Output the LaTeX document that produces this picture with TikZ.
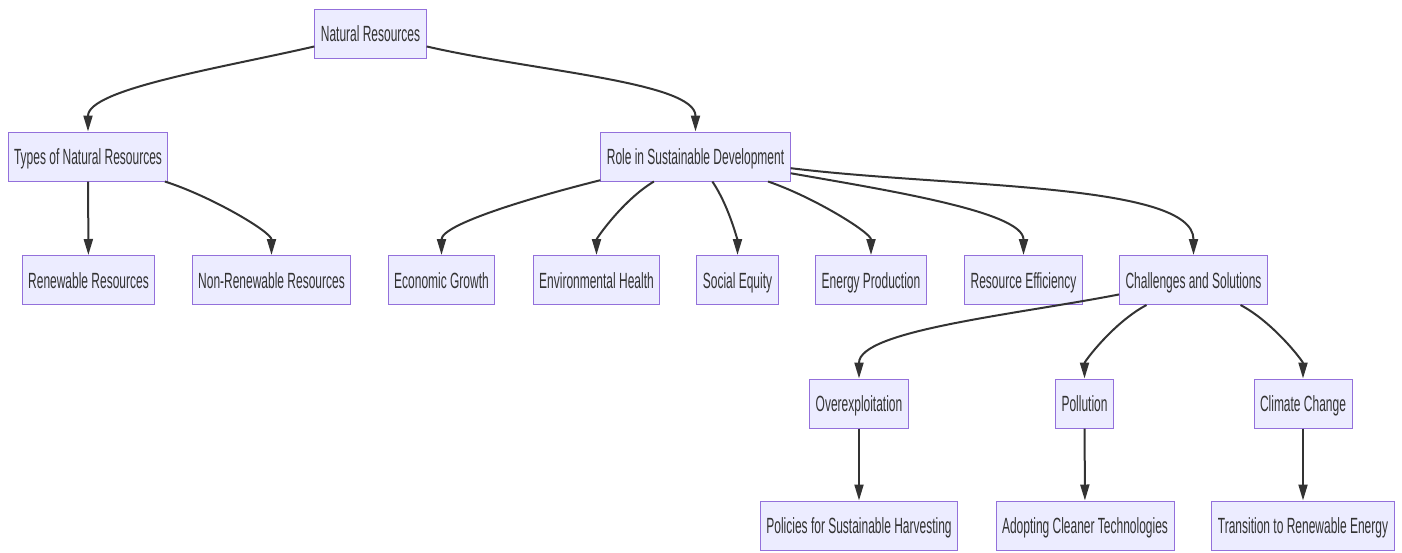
\documentclass[tikz,border=0pt]{standalone}
\usepackage{fontspec}
\setmainfont{Liberation Sans}[FakeStretch=0.545]
\usetikzlibrary{arrows.meta}

\definecolor{boxfill}{HTML}{ECECFF}
\definecolor{boxline}{HTML}{9370DB}
\definecolor{edgeline}{HTML}{333333}

\begin{document}
\begin{tikzpicture}[x=1pt, y=-1pt,
    topic/.style={draw=boxline, fill=boxfill, line width=1pt,
        minimum height=49pt, inner xsep=6pt, text=edgeline,
        text height=16pt, text depth=0pt,
        font=\fontsize{22}{25}\selectfont},
    edge/.style={draw=edgeline, line width=2pt,
        out looseness=1, in looseness=0.45,
        -{Triangle[length=16pt, width=9pt]}}]

    % --- Canvas ---
    \useasboundingbox (0,0) rectangle (1402,552);

    % --- Top levels ---
    \node[topic] (nr) at (370.5,33.5) {Natural Resources};
    \node[topic] (types) at (88,156.5) {Types of Natural Resources};
    \node[topic] (role) at (695.5,156.5) {Role in Sustainable Development};

    % --- Third row ---
    \node[topic] (renew) at (88.5,280) {Renewable Resources};
    \node[topic] (nonrenew) at (271.5,280) {Non-Renewable Resources};
    \node[topic] (econ) at (441.5,280) {Economic Growth};
    \node[topic] (envhealth) at (596.5,280) {Environmental Health};
    \node[topic] (social) at (737.5,280) {Social Equity};
    \node[topic] (energy) at (871,280) {Energy Production};
    \node[topic] (effic) at (1023.5,280) {Resource Efficiency};
    \node[topic] (chal) at (1193.5,280) {Challenges and Solutions};

    % --- Challenges ---
    \node[topic] (overexp) at (859,403.5) {Overexploitation};
    \node[topic] (pollution) at (1084.5,403.5) {Pollution};
    \node[topic] (climate) at (1303,403.5) {Climate Change};

    % --- Solutions ---
    \node[topic] (harvest) at (859,525.5) {Policies for Sustainable Harvesting};
    \node[topic] (cleaner) at (1085,525.5) {Adopting Cleaner Technologies};
    \node[topic] (transition) at (1303,525.5) {Transition to Renewable Energy};

    % --- Connectors ---
    \draw[edge] (nr) to[out=193, in=90] (types);
    \draw[edge] (nr) to[out=-13, in=90] (role);

    \draw[edge] (types) -- (renew);
    \draw[edge] (types) to[out=-18, in=90] (nonrenew);

    \draw[edge] (role) to[out=194, in=90] (econ);
    \draw[edge] (role) to[out=211, in=90] (envhealth);
    \draw[edge] (role) to[out=-56, in=90] (social);
    \draw[edge] (role) to[out=-19, in=90] (energy);
    \draw[edge] (role) to[out=-10, in=90] (effic);
    \draw[edge] (role) to[out=-7, in=90] (chal);

    \draw[edge] (chal) to[out=191, in=90] (overexp);
    \draw[edge] (chal) to[out=208, in=90] (pollution);
    \draw[edge] (chal) to[out=-28, in=90] (climate);

    \draw[edge] (overexp) -- (harvest);
    \draw[edge] (pollution) -- (cleaner);
    \draw[edge] (climate) -- (transition);

\end{tikzpicture}
\end{document}
